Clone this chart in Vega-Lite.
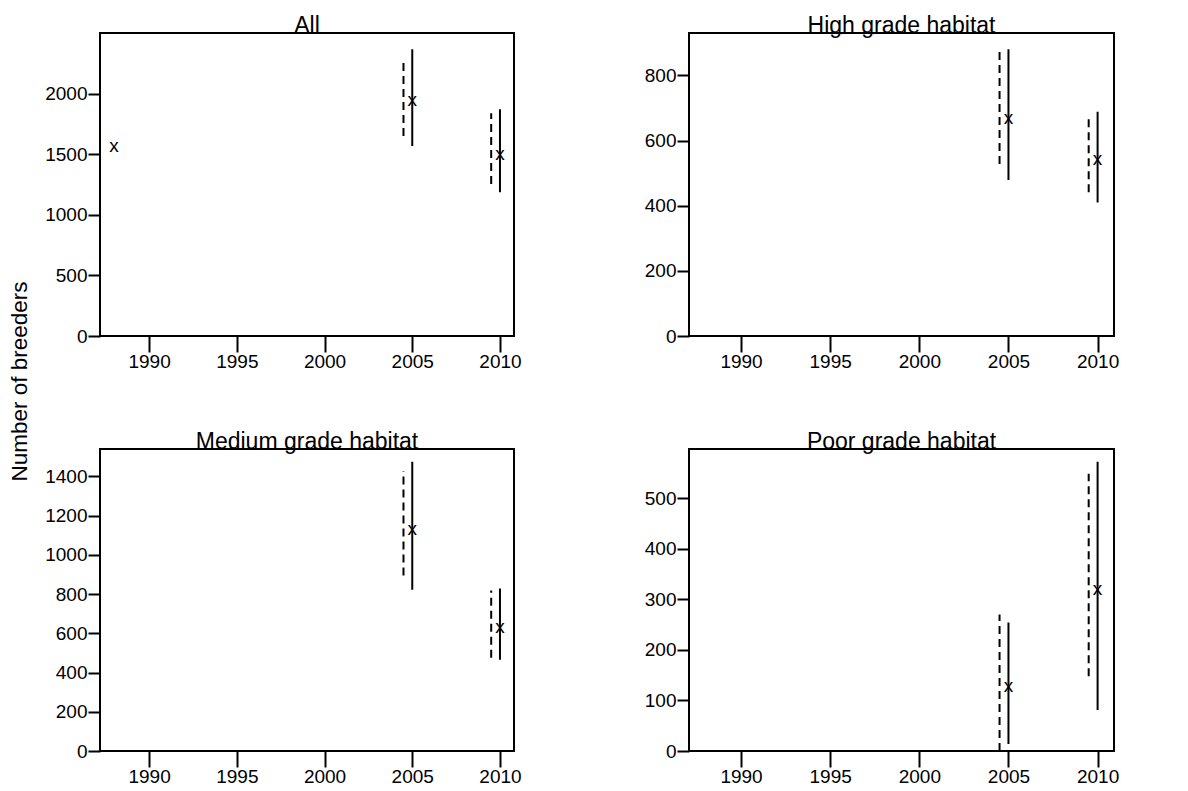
{
  "$schema": "https://vega.github.io/schema/vega-lite/v6.json",
  "background": "white",
  "padding": {"left": 9, "top": 14, "right": 5, "bottom": 5},
  "config": {
    "font": "Liberation Sans",
    "view": {"stroke": "black", "strokeWidth": 2},
    "axis": {"domain": false, "grid": false, "tickColor": "black", "tickWidth": 2, "labelColor": "black", "labelFontSize": 19, "labelFont": "Liberation Sans", "labelOverlap": false, "labelFlush": false},
    "axisX": {"tickSize": 16, "labelPadding": 0},
    "axisY": {"tickSize": 12, "labelPadding": 1},
    "title": {"fontSize": 23, "fontWeight": "normal", "font": "Liberation Sans", "color": "black", "baseline": "alphabetic", "offset": -5, "frame": "group"}
  },
  "title": {"text": "Number of breeders", "orient": "left", "anchor": "middle", "frame": "bounds", "fontSize": 22.5, "fontWeight": "normal", "baseline": "bottom", "offset": -11, "dx": 19},
  "datasets": {
    "est": [
      {"panel": "All", "year": 1988, "est": 1570},
      {"panel": "All", "year": 2005, "est": 1950},
      {"panel": "All", "year": 2010, "est": 1504},
      {"panel": "High", "year": 2005, "est": 668},
      {"panel": "High", "year": 2010, "est": 542},
      {"panel": "Medium", "year": 2005, "est": 1132},
      {"panel": "Medium", "year": 2010, "est": 631},
      {"panel": "Poor", "year": 2005, "est": 128.6},
      {"panel": "Poor", "year": 2010, "est": 320.6}
    ],
    "bars": [
      {"panel": "All", "year": 2005, "kind": "solid", "lo": 1570, "hi": 2369},
      {"panel": "All", "year": 2004.5, "kind": "dashed", "lo": 1653, "hi": 2259},
      {"panel": "All", "year": 2010, "kind": "solid", "lo": 1187, "hi": 1873},
      {"panel": "All", "year": 2009.5, "kind": "dashed", "lo": 1256, "hi": 1840},
      {"panel": "High", "year": 2005, "kind": "solid", "lo": 479, "hi": 880},
      {"panel": "High", "year": 2004.5, "kind": "dashed", "lo": 528, "hi": 880},
      {"panel": "High", "year": 2010, "kind": "solid", "lo": 410, "hi": 688},
      {"panel": "High", "year": 2009.5, "kind": "dashed", "lo": 441, "hi": 666},
      {"panel": "Medium", "year": 2005, "kind": "solid", "lo": 822, "hi": 1475},
      {"panel": "Medium", "year": 2004.5, "kind": "dashed", "lo": 895, "hi": 1428},
      {"panel": "Medium", "year": 2010, "kind": "solid", "lo": 465, "hi": 829},
      {"panel": "Medium", "year": 2009.5, "kind": "dashed", "lo": 476, "hi": 818},
      {"panel": "Poor", "year": 2005, "kind": "solid", "lo": 14, "hi": 254},
      {"panel": "Poor", "year": 2004.5, "kind": "dashed", "lo": 0, "hi": 270},
      {"panel": "Poor", "year": 2010, "kind": "solid", "lo": 81, "hi": 572},
      {"panel": "Poor", "year": 2009.5, "kind": "dashed", "lo": 148, "hi": 548}
    ]
  },
  "columns": 2,
  "spacing": {"column": 120, "row": 58},
  "concat": [
    {
      "width": 414, "height": 303,
      "title": {"text": "All"},
      "layer": [
        {
          "data": {"name": "bars"},
          "transform": [{"filter": "datum.panel === 'All'"}],
          "mark": {"type": "rule", "strokeWidth": 2, "color": "black"},
          "encoding": {
            "x": {"field": "year", "type": "quantitative", "title": null, "scale": {"domain": [1987.2, 2010.8], "nice": false, "zero": false}, "axis": {"values": [1990, 1995, 2000, 2005, 2010], "format": "d"}},
            "y": {"field": "lo", "type": "quantitative", "title": null, "scale": {"domain": [0, 2504], "nice": false, "zero": true}, "axis": {"values": [0, 500, 1000, 1500, 2000], "format": "d"}},
            "y2": {"field": "hi"},
            "strokeDash": {"field": "kind", "type": "nominal", "scale": {"domain": ["solid", "dashed"], "range": [[1, 0], [8, 5]]}, "legend": null}
          }
        },
        {
          "data": {"name": "est"},
          "transform": [{"filter": "datum.panel === 'All'"}],
          "mark": {"type": "text", "text": "x", "fontSize": 19, "color": "black", "baseline": "middle", "align": "center"},
          "encoding": {
            "x": {"field": "year", "type": "quantitative"},
            "y": {"field": "est", "type": "quantitative"}
          }
        }
      ]
    },
    {
      "width": 425, "height": 303,
      "title": {"text": "High grade habitat"},
      "layer": [
        {
          "data": {"name": "bars"},
          "transform": [{"filter": "datum.panel === 'High'"}],
          "mark": {"type": "rule", "strokeWidth": 2, "color": "black"},
          "encoding": {
            "x": {"field": "year", "type": "quantitative", "title": null, "scale": {"domain": [1987.08, 2010.92], "nice": false, "zero": false}, "axis": {"values": [1990, 1995, 2000, 2005, 2010], "format": "d"}},
            "y": {"field": "lo", "type": "quantitative", "title": null, "scale": {"domain": [0, 930], "nice": false, "zero": true}, "axis": {"values": [0, 200, 400, 600, 800], "format": "d"}},
            "y2": {"field": "hi"},
            "strokeDash": {"field": "kind", "type": "nominal", "scale": {"domain": ["solid", "dashed"], "range": [[1, 0], [8, 5]]}, "legend": null}
          }
        },
        {
          "data": {"name": "est"},
          "transform": [{"filter": "datum.panel === 'High'"}],
          "mark": {"type": "text", "text": "x", "fontSize": 19, "color": "black", "baseline": "middle", "align": "center"},
          "encoding": {
            "x": {"field": "year", "type": "quantitative"},
            "y": {"field": "est", "type": "quantitative"}
          }
        }
      ]
    },
    {
      "width": 414, "height": 302,
      "title": {"text": "Medium grade habitat"},
      "layer": [
        {
          "data": {"name": "bars"},
          "transform": [{"filter": "datum.panel === 'Medium'"}],
          "mark": {"type": "rule", "strokeWidth": 2, "color": "black"},
          "encoding": {
            "x": {"field": "year", "type": "quantitative", "title": null, "scale": {"domain": [1987.2, 2010.8], "nice": false, "zero": false}, "axis": {"values": [1990, 1995, 2000, 2005, 2010], "format": "d"}},
            "y": {"field": "lo", "type": "quantitative", "title": null, "scale": {"domain": [0, 1540], "nice": false, "zero": true}, "axis": {"values": [0, 200, 400, 600, 800, 1000, 1200, 1400], "format": "d"}},
            "y2": {"field": "hi"},
            "strokeDash": {"field": "kind", "type": "nominal", "scale": {"domain": ["solid", "dashed"], "range": [[1, 0], [8, 5]]}, "legend": null}
          }
        },
        {
          "data": {"name": "est"},
          "transform": [{"filter": "datum.panel === 'Medium'"}],
          "mark": {"type": "text", "text": "x", "fontSize": 19, "color": "black", "baseline": "middle", "align": "center"},
          "encoding": {
            "x": {"field": "year", "type": "quantitative"},
            "y": {"field": "est", "type": "quantitative"}
          }
        }
      ]
    },
    {
      "width": 425, "height": 302,
      "title": {"text": "Poor grade habitat"},
      "layer": [
        {
          "data": {"name": "bars"},
          "transform": [{"filter": "datum.panel === 'Poor'"}],
          "mark": {"type": "rule", "strokeWidth": 2, "color": "black"},
          "encoding": {
            "x": {"field": "year", "type": "quantitative", "title": null, "scale": {"domain": [1987.08, 2010.92], "nice": false, "zero": false}, "axis": {"values": [1990, 1995, 2000, 2005, 2010], "format": "d"}},
            "y": {"field": "lo", "type": "quantitative", "title": null, "scale": {"domain": [0, 597], "nice": false, "zero": true}, "axis": {"values": [0, 100, 200, 300, 400, 500], "format": "d"}},
            "y2": {"field": "hi"},
            "strokeDash": {"field": "kind", "type": "nominal", "scale": {"domain": ["solid", "dashed"], "range": [[1, 0], [8, 5]]}, "legend": null}
          }
        },
        {
          "data": {"name": "est"},
          "transform": [{"filter": "datum.panel === 'Poor'"}],
          "mark": {"type": "text", "text": "x", "fontSize": 19, "color": "black", "baseline": "middle", "align": "center"},
          "encoding": {
            "x": {"field": "year", "type": "quantitative"},
            "y": {"field": "est", "type": "quantitative"}
          }
        }
      ]
    }
  ]
}
